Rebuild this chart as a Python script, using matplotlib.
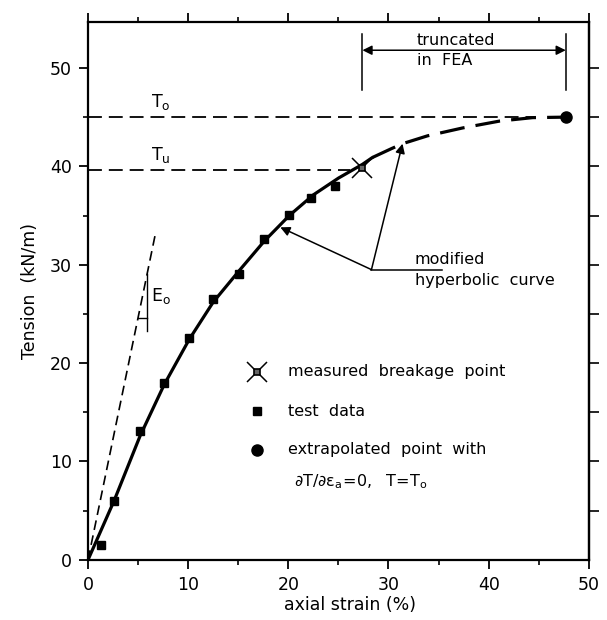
import numpy as np
import matplotlib
matplotlib.use("Agg")
import matplotlib.pyplot as plt

plt.rcParams['font.family'] = ['DejaVu Sans']
plt.rcParams['mathtext.default'] = 'regular'
plt.rcParams['lines.scale_dashes'] = False

# test data
test_strain = [1.3, 2.6, 5.2, 7.6, 10.1, 12.5, 15.1, 17.6, 20.1, 22.3, 24.7]
test_tension = [1.5, 6.0, 13.1, 18.0, 22.5, 26.5, 29.1, 32.6, 35.1, 36.8, 38.0]

# modified hyperbolic curve, solid part and truncated (dashed) part
curve_strain = [0, 2.6, 5.2, 7.6, 10.1, 12.5, 15.1, 17.6, 20.1, 22.5, 25.0, 27.4, 28.4]
curve_tension = [0, 6.0, 12.6, 17.8, 22.4, 26.2, 29.4, 32.4, 35.0, 37.1, 38.8, 40.2, 40.9]
trunc_strain = [28.4, 30.3, 31.4, 33.9, 37.4, 41.1, 44.4, 47.7]
trunc_tension = [40.9, 41.8, 42.3, 43.1, 43.9, 44.6, 44.95, 45.0]

# initial tangent E_o
tangent_strain = [0, 6.7]
tangent_tension = [0, 33.0]

break_strain, break_tension = 27.4, 39.8
extra_strain, extra_tension = 47.7, 45.0
T_o = 45.0
T_u = 39.6

fig = plt.figure(figsize=(6.07, 6.20), dpi=100)
ax = fig.add_axes([0.145, 0.097, 0.825, 0.868])

# reference lines
ax.plot([0, 44.5], [T_o, T_o], color='black', lw=1.3, dashes=(10, 5))
ax.plot([0, 26.2], [T_u, T_u], color='black', lw=1.3, dashes=(10, 5))
ax.text(6.3, 46.0, r'$T_o$', fontsize=12.5)
ax.text(6.3, 40.6, r'$T_u$', fontsize=12.5)

# tangent + slope triangle
ax.plot(tangent_strain, tangent_tension, color='black', lw=1.2, dashes=(7, 4))
ax.plot([5.9, 5.9], [23.3, 29.1], color='black', lw=1.0)
ax.plot([5.0, 5.9], [24.6, 24.6], color='black', lw=1.0)
ax.text(6.3, 26.3, r'$E_o$', fontsize=12.5)

# curve
ax.plot(curve_strain, curve_tension, color='black', lw=2.3, solid_capstyle='round')
ax.plot(trunc_strain, trunc_tension, color='black', lw=2.3, dashes=(18, 8))
ax.plot(test_strain, test_tension, 's', color='black', ms=5.5)
ax.plot(break_strain, break_tension, 'x', color='black', ms=15, mew=1.1)
ax.plot(break_strain, break_tension, 's', mfc='#666666', mec='black', ms=5, mew=1.2)
ax.plot(extra_strain, extra_tension, 'o', color='black', ms=8)

# truncated in FEA
ax.plot([27.4, 27.4], [47.8, 53.5], color='black', lw=1.1)
ax.plot([47.7, 47.7], [47.8, 53.5], color='black', lw=1.1)
ax.annotate('', xy=(27.4, 51.8), xytext=(47.7, 51.8),
            arrowprops=dict(arrowstyle='<|-|>', color='black', lw=1.1,
                            mutation_scale=14, shrinkA=0, shrinkB=0))
ax.text(32.8, 52.0, 'truncated', fontsize=11.5, va='bottom')
ax.text(32.8, 51.5, 'in  FEA', fontsize=11.5, va='top')

# modified hyperbolic curve callout
ax.plot([28.3, 35.3], [29.5, 29.5], color='black', lw=1.1)
ax.annotate('', xy=(19.2, 33.8), xytext=(28.3, 29.5),
            arrowprops=dict(arrowstyle='-|>', color='black', lw=1.1,
                            mutation_scale=14, shrinkA=0, shrinkB=0))
ax.annotate('', xy=(31.4, 42.3), xytext=(28.3, 29.5),
            arrowprops=dict(arrowstyle='-|>', color='black', lw=1.1,
                            mutation_scale=14, shrinkA=0, shrinkB=0))
ax.text(32.6, 29.8, 'modified', fontsize=11.5, va='bottom')
ax.text(32.6, 29.2, 'hyperbolic  curve', fontsize=11.5, va='top')

# legend drawn by hand
ax.plot(16.9, 19.1, 'x', color='black', ms=15, mew=1.1)
ax.plot(16.9, 19.1, 's', mfc='#666666', mec='black', ms=5, mew=1.2)
ax.text(20.0, 19.1, 'measured  breakage  point', fontsize=11.5, va='center')
ax.plot(16.9, 15.1, 's', color='black', ms=5.5)
ax.text(20.0, 15.1, 'test  data', fontsize=11.5, va='center')
ax.plot(16.9, 11.2, 'o', color='black', ms=8)
ax.text(20.0, 11.2, 'extrapolated  point  with', fontsize=11.5, va='center')
ax.text(20.6, 7.9, r'$\partial T/\partial \varepsilon_a\!=\!0,\ \ T\!=\!T_o$',
        fontsize=11.5, va='center')

ax.set_xlim(0, 50)
ax.set_ylim(0, 54.7)
ax.set_xticks(np.arange(0, 51, 10))
ax.set_xticks(np.arange(0, 51, 5), minor=True)
ax.set_yticks(np.arange(0, 51, 10))
ax.set_yticks(np.arange(0, 51, 5), minor=True)
ax.tick_params(which='major', direction='out', length=6.5, width=1.3,
               labelsize=12.5, pad=5, top=True)
ax.tick_params(which='minor', direction='out', length=3.5, width=1.2, top=True)
for s in ax.spines.values():
    s.set_linewidth(1.6)

right = ax.secondary_yaxis('right')
right.set_yticks(np.arange(5, 55, 5))
right.tick_params(direction='out', length=7, width=1.2, labelright=False)
right.spines['right'].set_linewidth(1.6)

ax.set_xlabel('axial strain (%)', fontsize=12.5)
ax.set_ylabel('Tension  (kN/m)', fontsize=12.5)
ax.xaxis.set_label_coords(0.523, -0.068)
ax.yaxis.set_label_coords(-0.098, 0.5)

fig.savefig('out.png', dpi=100)
